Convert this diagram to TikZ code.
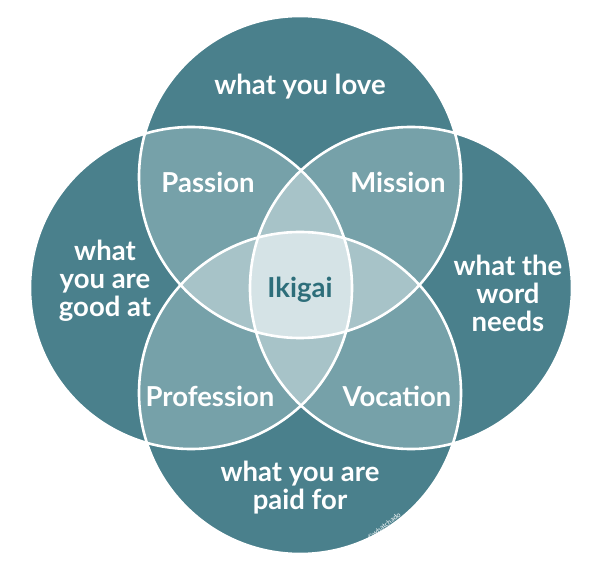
\documentclass[tikz,border=0pt]{standalone}
\usepackage{fontspec}
\setmainfont{Lato}
\usepackage{tikz}
\usetikzlibrary{positioning}
\definecolor{tealdark}{RGB}{74,128,140}
\definecolor{tealmid}{RGB}{118,161,169}
\definecolor{teallight}{RGB}{167,195,200}
\definecolor{tealpale}{RGB}{213,227,230}
\definecolor{tealtext}{RGB}{45,110,122}
\newcommand{\ringr}{161pt}

\begin{document}
\begin{tikzpicture}[x=1pt,y=-1pt,
    ring/.style={draw=white,line width=2.6pt},
    lbl/.style={text=white,align=center,inner sep=0pt,
      font=\fontsize{27.5}{28}\selectfont\bfseries},
    core/.style={lbl,text=tealtext},
    creditlbl/.style={text=white,inner sep=0pt,font=\fontsize{7}{8}\selectfont,rotate=38}
  ]
    \useasboundingbox (0,0) rectangle (600,577);
    \coordinate (love) at (300,177);
    \coordinate (good) at (191,288);
    \coordinate (world) at (411,288);
    \coordinate (paid) at (300,393);
    % base circles
    \foreach \c in {love,good,world,paid}
      \fill[tealdark] (\c) circle[radius=\ringr];
    % two-way overlaps
    \foreach \a/\b in {love/good,love/world,paid/good,paid/world}{
      \begin{scope}
        \clip (\a) circle[radius=\ringr];
        \fill[tealmid] (\b) circle[radius=\ringr];
      \end{scope}}
    % three-way overlaps
    \foreach \a/\b in {love/paid,good/world}{
      \begin{scope}
        \clip (\a) circle[radius=\ringr];
        \fill[teallight] (\b) circle[radius=\ringr];
      \end{scope}}
    % centre
    \begin{scope}
      \clip (love) circle[radius=\ringr];
      \clip (paid) circle[radius=\ringr];
      \clip (good) circle[radius=\ringr];
      \fill[tealpale] (world) circle[radius=\ringr];
    \end{scope}
    \foreach \c in {love,good,world,paid}
      \draw[ring] (\c) circle[radius=\ringr];
    % labels
    \node[lbl] (lovetxt) at (300,87) {what you love};
    \node[lbl] (passion) at (208,182) {Passion};
    \node[lbl] (mission) at (398,182) {Mission};
    \node[lbl] (goodtxt) at (105,281) {what\\you are\\good at};
    \node[lbl] (worldtxt) at (508,293) {what the\\word\\needs};
    \node[core] (ikigai) at (300,290) {Ikigai};
    \node[lbl] (profession) at (210,396) {Profession};
    \node[lbl] (vocation) at (397,396) {Vocation};
    \node[lbl] (paidtxt) at (300,488) {what you are\\paid for};
    \node[creditlbl] (credit) at (384,526) {©whatchado};
  \end{tikzpicture}
\end{document}
